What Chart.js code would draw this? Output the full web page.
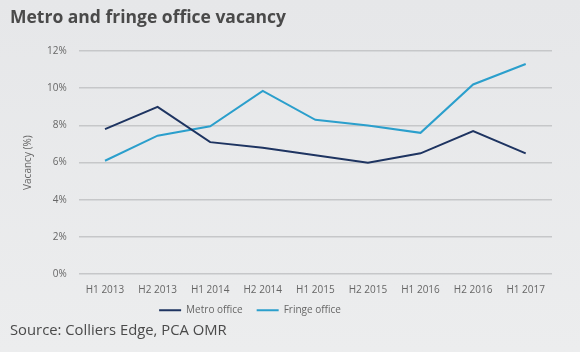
<!DOCTYPE html>
<html>
<head>
<meta charset="utf-8">
<script src="https://cdn.jsdelivr.net/npm/chart.js@4"></script>
<style>
  html, body { margin: 0; padding: 0; }
  body { background: linear-gradient(#e6e7e9, #ecedee); width: 580px; height: 352px; }
  #wrap { width: 580px; height: 352px; position: relative; }
</style>
</head>
<body>
<div id="wrap"><canvas id="vacancyChart"></canvas></div>
<script>
// periods on the x axis
const periods = ['H1 2013', 'H2 2013', 'H1 2014', 'H2 2014', 'H1 2015', 'H2 2015', 'H1 2016', 'H2 2016', 'H1 2017'];

// vacancy rates (%)
const metroOffice = [7.8, 9.0, 7.1, 6.8, 6.4, 6.0, 6.5, 7.7, 6.5];
const fringeOffice = [6.1, 7.45, 7.95, 9.85, 8.3, 8.0, 7.6, 10.2, 11.3];

const yTicks = [0, 2, 4, 6, 8, 10, 12];

const fontFamily = "'Open Sans', 'DejaVu Sans', sans-serif";

// the legend sits a bit left of centre and tight under the axis in the original
const legendShift = {
    id: 'legendShift',
    afterLayout(chart) {
        chart.legend.left -= 31;
        chart.legend.right -= 31;
        chart.legend.top -= 7;
        chart.legend.bottom -= 7;
    }
};

const beginChart = () => {
    var ctx = document.getElementById('vacancyChart').getContext('2d');

    var data = {
        labels: periods,
        datasets: [{
            label: 'Metro office',
            data: metroOffice,
            borderColor: '#1e3461',
            backgroundColor: '#1e3461',
            borderWidth: 2,
            pointRadius: 0,
            tension: 0
        }, {
            label: 'Fringe office',
            data: fringeOffice,
            borderColor: '#2b9fcc',
            backgroundColor: '#2b9fcc',
            borderWidth: 2,
            pointRadius: 0,
            tension: 0
        }]
    };

    var options = {
        responsive: true,
        maintainAspectRatio: false,
        animation: false,
        layout: { padding: { left: 10, right: 28, top: 0, bottom: 8 } },
        plugins: {
            title: {
                display: true,
                text: 'Metro and fringe office vacancy',
                align: 'start',
                color: '#4a4a4a',
                font: { family: fontFamily, size: 17.5, weight: 'bold' },
                padding: { top: 8, bottom: 22 }
            },
            subtitle: {
                display: true,
                position: 'bottom',
                text: 'Source: Colliers Edge, PCA OMR',
                align: 'start',
                color: '#4a4a4a',
                font: { family: fontFamily, size: 14.8 },
                padding: { top: -10, bottom: 4 }
            },
            legend: {
                position: 'bottom',
                labels: {
                    usePointStyle: true,
                    pointStyle: 'line',
                    pointStyleWidth: 22,
                    color: '#666',
                    font: { family: fontFamily, size: 10 },
                    padding: 14
                }
            },
            tooltip: { enabled: false }
        },
        scales: {
            x: {
                offset: true,
                grid: { display: false },
                border: { display: false },
                ticks: {
                    color: '#666',
                    font: { family: fontFamily, size: 10 },
                    maxRotation: 0,
                    padding: 2
                }
            },
            y: {
                min: 0,
                max: 12,
                afterBuildTicks: (axis) => { axis.ticks = yTicks.map(v => ({ value: v })); },
                afterFit: (axis) => { axis.width -= 5; },
                grid: { color: '#c6c7c9', lineWidth: 1.5, drawTicks: false },
                border: { display: false },
                ticks: {
                    color: '#666',
                    font: { family: fontFamily, size: 10 },
                    padding: 12,
                    callback: (v) => v + '%'
                },
                title: {
                    display: true,
                    text: 'Vacancy (%)',
                    color: '#666',
                    font: { family: fontFamily, size: 10 },
                    padding: { top: 12, bottom: 6 }
                }
            }
        }
    };

    new Chart(ctx, {
        type: 'line',
        data: data,
        options: options,
        plugins: [legendShift]
    });
};

document.addEventListener("DOMContentLoaded", beginChart);
</script>
</body>
</html>
